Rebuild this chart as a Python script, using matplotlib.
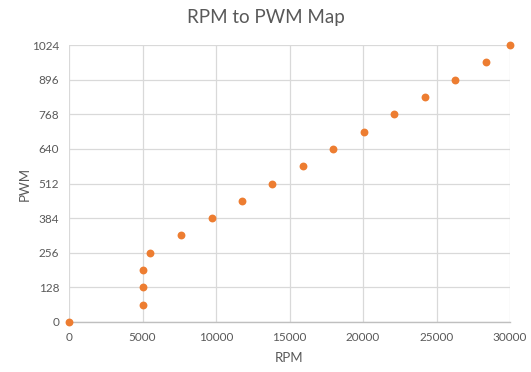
import matplotlib
matplotlib.use("Agg")
import matplotlib.pyplot as plt

rpm = [0, 5000, 5000, 5000, 5500, 7600, 9700, 11750, 13800, 15900,
       17950, 20050, 22100, 24200, 26250, 28350, 30000]
pwm = [0, 64, 128, 192, 256, 320, 384, 448, 512, 576,
       640, 704, 768, 832, 896, 960, 1024]
xticks = [0, 5000, 10000, 15000, 20000, 25000, 30000]
yticks = [0, 128, 256, 384, 512, 640, 768, 896, 1024]

plt.rcParams["font.family"] = ["Lato", "DejaVu Sans"]
TXT = "#595959"

fig = plt.figure(figsize=(5.31, 3.72), dpi=100)
ax = fig.add_axes([69 / 531, 50 / 372, 441 / 531, 277 / 372])

ax.scatter(rpm, pwm, s=32, color="#ED7D31", zorder=3, clip_on=False, linewidths=0)

ax.set_xlim(0, 30000)
ax.set_ylim(0, 1024)
ax.set_xticks(xticks)
ax.set_yticks(yticks)
ax.grid(True, color="#D9D9D9", lw=0.9)
ax.set_axisbelow(True)
for s in ["top", "right", "left"]:
    ax.spines[s].set_visible(False)
ax.spines["bottom"].set_color("#BFBFBF")
ax.spines["bottom"].set_linewidth(1.0)
ax.tick_params(length=0, labelsize=8.5, colors=TXT, pad=7)
ax.set_xlabel("RPM", fontsize=9.5, color=TXT, labelpad=7)
ax.set_ylabel("PWM", fontsize=9.5, color=TXT, labelpad=1)
fig.text(0.5, 1 - 17 / 372, "RPM to PWM Map", ha="center", va="center",
         fontsize=13.5, color=TXT)

fig.savefig("out.png", dpi=100)
